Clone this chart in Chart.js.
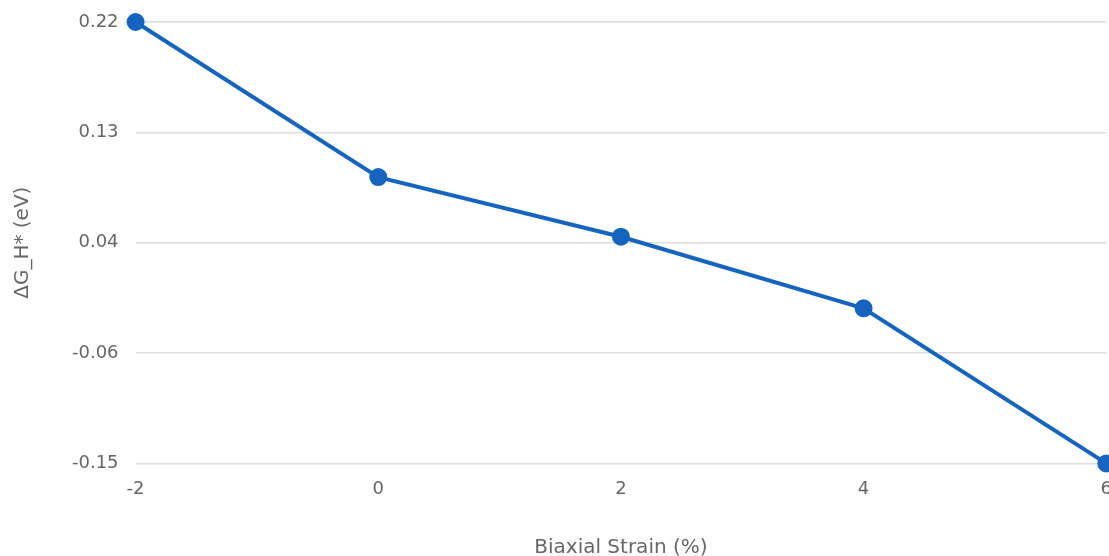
<!DOCTYPE html>
<html>
<head>
<meta charset="utf-8">
<script src="https://cdn.jsdelivr.net/npm/chart.js@4"></script>
<style>
    html, body { margin: 0; padding: 0; background: #fff; overflow: hidden; }
    #wrap { width: 1127px; height: 556px; }
</style>
</head>
<body>
<div id="wrap"><canvas id="graficoStrain"></canvas></div>
<script>
const strain = [-2, 0, 2, 4, 6];
const deltaG = [0.22, 0.09, 0.04, -0.02, -0.15];
const etiquetasY = ["-0.15", "-0.06", "0.04", "0.13", "0.22"];

const yMin = -0.15;
const yMax = 0.22;

const dataGrafico = {
    datasets: [
        {
            label: "ΔG_H*",
            data: strain.map((x, i) => ({ x: x, y: deltaG[i] })),
            borderColor: "#1565c0",
            backgroundColor: "#1565c0",
            borderWidth: 4,
            pointRadius: 7,
            pointHoverRadius: 7,
            tension: 0,
            clip: false,
        },
    ],
};

const configGrafico = {
    type: "line",
    data: dataGrafico,
    options: {
        responsive: true,
        maintainAspectRatio: false,
        animation: false,
        layout: {
            padding: { top: 0, left: 11, right: 0, bottom: 0 },
        },
        plugins: {
            legend: { display: false },
            tooltip: { enabled: false },
        },
        scales: {
            x: {
                type: "linear",
                min: -2,
                max: 6,
                grid: { display: false, drawTicks: false },
                border: { display: false },
                ticks: {
                    stepSize: 2,
                    padding: 15,
                    color: "#666",
                    font: { family: "DejaVu Sans", size: 18 },
                },
                title: {
                    display: true,
                    text: "Biaxial Strain (%)",
                    color: "#666",
                    padding: { top: 21, bottom: -4 },
                    font: { family: "DejaVu Sans", size: 20 },
                },
            },
            y: {
                min: yMin,
                max: yMax,
                afterBuildTicks: (axis) => {
                    axis.ticks = etiquetasY.map((t, i) => ({
                        value: yMin + (i * (yMax - yMin)) / (etiquetasY.length - 1),
                    }));
                },
                afterFit: (axis) => {
                    axis.paddingTop = 22;
                },
                grid: { color: "#dddddd", lineWidth: 1.5, drawTicks: false },
                border: { display: false },
                ticks: {
                    padding: 17,
                    color: "#666",
                    font: { family: "DejaVu Sans", size: 18 },
                    callback: (value, index) => etiquetasY[index],
                },
                title: {
                    display: true,
                    text: "ΔG_H* (eV)",
                    color: "#666",
                    padding: { top: 0, bottom: 20 },
                    font: { family: "DejaVu Sans", size: 20 },
                },
            },
        },
    },
};

const chartStrain = new Chart(document.getElementById("graficoStrain"), configGrafico);
</script>
</body>
</html>
